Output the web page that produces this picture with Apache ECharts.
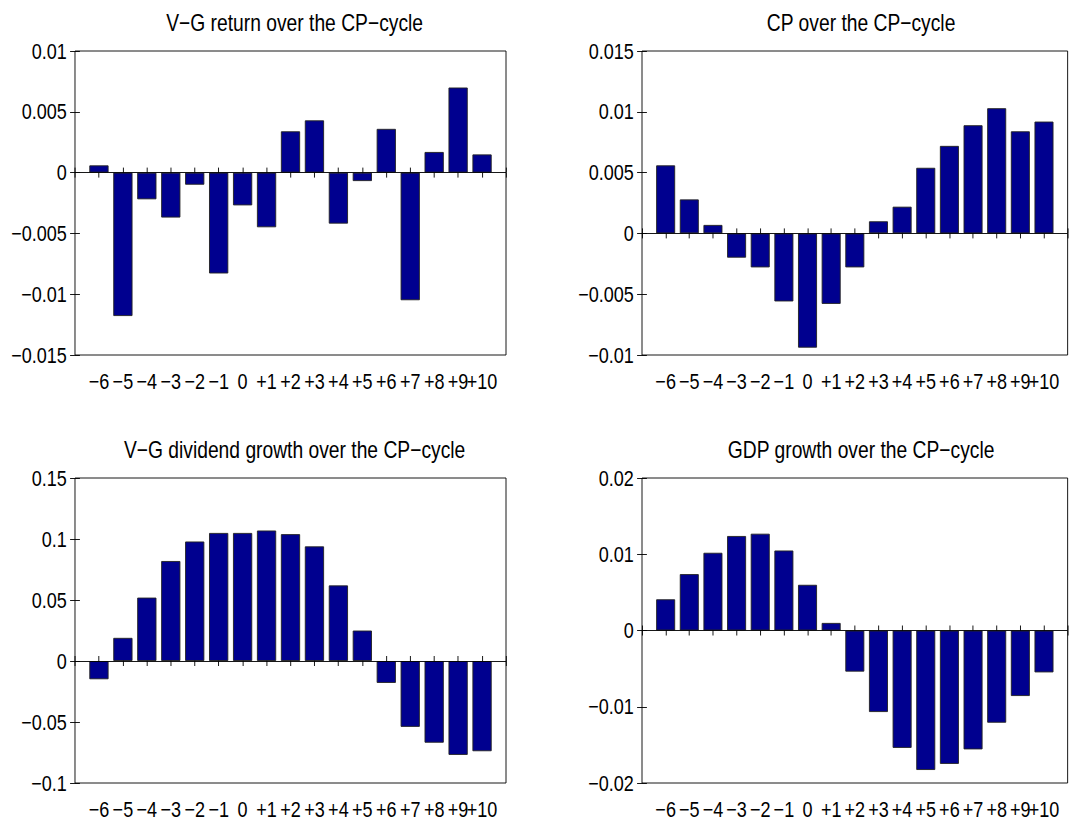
<!DOCTYPE html>
<html>
<head>
<meta charset="utf-8">
<script src="https://cdn.jsdelivr.net/npm/echarts@6/dist/echarts.min.js"></script>
<style>
  html, body { margin: 0; padding: 0; background: #fff; overflow: hidden; }
  #frame { width: 1070px; height: 825px; overflow: hidden; position: relative; }
  /* the figure uses a condensed face: draw wide, then compress horizontally */
  #chart { width: 1305px; height: 825px; transform: scaleX(0.82); transform-origin: 0 0; }
</style>
</head>
<body>
<div id="frame"><div id="chart"></div></div>
<script>
// Event time relative to the CP-cycle peak
const periods = ['\u22126', '\u22125', '\u22124', '\u22123', '\u22122', '\u22121', '0',
  '+1', '+2', '+3', '+4', '+5', '+6', '+7', '+8', '+9', '+10'];

// Series values per event period
const vgReturn = [0.0006, -0.0118, -0.0022, -0.0037, -0.0010, -0.0083, -0.0027, -0.0045,
  0.0034, 0.0043, -0.0042, -0.0007, 0.0036, -0.0105, 0.0017, 0.0070, 0.0015];
const cpLevel = [0.0056, 0.0028, 0.0007, -0.0020, -0.0028, -0.0056, -0.0094, -0.0058,
  -0.0028, 0.0010, 0.0022, 0.0054, 0.0072, 0.0089, 0.0103, 0.0084, 0.0092];
const vgDividend = [-0.015, 0.019, 0.052, 0.082, 0.098, 0.105, 0.105, 0.107,
  0.104, 0.094, 0.062, 0.025, -0.018, -0.054, -0.067, -0.077, -0.074];
const gdpGrowth = [0.0041, 0.0074, 0.0102, 0.0124, 0.0127, 0.0105, 0.0060, 0.0010,
  -0.0054, -0.0107, -0.0154, -0.0183, -0.0175, -0.0156, -0.0121, -0.0086, -0.0055];

// Y tick values per panel
const vgReturnTicks = [-0.015, -0.01, -0.005, 0, 0.005, 0.01];
const cpLevelTicks = [-0.01, -0.005, 0, 0.005, 0.01, 0.015];
const vgDividendTicks = [-0.1, -0.05, 0, 0.05, 0.1, 0.15];
const gdpGrowthTicks = [-0.02, -0.01, 0, 0.01, 0.02];

// Panel boxes in on-screen pixels
const panels = [
  { title: 'V\u2212G return over the CP\u2212cycle', values: vgReturn, ticks: vgReturnTicks, left: 75, top: 51, width: 431, height: 304 },
  { title: 'CP over the CP\u2212cycle', values: cpLevel, ticks: cpLevelTicks, left: 642, top: 51, width: 430, height: 304 },
  { title: 'V\u2212G dividend growth over the CP\u2212cycle', values: vgDividend, ticks: vgDividendTicks, left: 75, top: 478, width: 431, height: 305 },
  { title: 'GDP growth over the CP\u2212cycle', values: gdpGrowth, ticks: gdpGrowthTicks, left: 642, top: 478, width: 430, height: 305 }
];

const SX = 0.82;            // horizontal compression applied by CSS
const FONT = "'Liberation Sans', Arial, Helvetica, sans-serif";
const BAR_COLOR = '#00008f';
const LABEL_SIZE = 22;
const TITLE_SIZE = 23.5;

const clean = v => Number(Number(v).toPrecision(6));
const fmtY = v => String(clean(v)).replace('-', '\u2212');
const fmtX = v => periods[Math.round(v) - 1] || '';

const option = {
  animation: false,
  backgroundColor: '#fff',
  title: [],
  grid: [],
  xAxis: [],
  yAxis: [],
  series: []
};

panels.forEach((p, i) => {
  const step = clean(p.ticks[1] - p.ticks[0]);
  const yMin = p.ticks[0];
  const yMax = p.ticks[p.ticks.length - 1];

  option.title.push({
    text: p.title,
    left: (p.left + p.width / 2) / SX,
    top: p.top - 45,
    textAlign: 'center',
    textStyle: { fontFamily: FONT, fontSize: TITLE_SIZE, fontWeight: 'normal', color: '#000' }
  });

  option.grid.push({
    left: p.left / SX, top: p.top, width: p.width / SX, height: p.height,
    show: true, borderColor: '#000', borderWidth: 1, backgroundColor: 'transparent',
    containLabel: false
  });

  const xTick = { show: true, inside: true, length: 5, lineStyle: { color: '#000', width: 1 } };
  const yTick = { show: true, inside: true, length: 6, lineStyle: { color: '#000', width: 1 } };

  // bottom and top x axes (bar positions 1..17 within 0..18)
  option.xAxis.push({
    type: 'value', gridIndex: i, position: 'bottom', min: 0, max: 18, interval: 1,
    axisLine: { show: false }, splitLine: { show: false }, axisTick: xTick,
    axisLabel: { show: true, formatter: fmtX, margin: 15, color: '#000', fontFamily: FONT, fontSize: LABEL_SIZE }
  });
  option.xAxis.push({
    type: 'value', gridIndex: i, position: 'top', min: 0, max: 18, interval: 1,
    axisLine: { show: false }, splitLine: { show: false }, axisTick: xTick,
    axisLabel: { show: false }
  });

  // left and right y axes
  option.yAxis.push({
    type: 'value', gridIndex: i, position: 'left', min: yMin, max: yMax, interval: step,
    axisLine: { show: false }, splitLine: { show: false }, axisTick: yTick,
    axisLabel: { show: true, formatter: fmtY, margin: 10, color: '#000', fontFamily: FONT, fontSize: LABEL_SIZE }
  });
  option.yAxis.push({
    type: 'value', gridIndex: i, position: 'right', min: yMin, max: yMax, interval: step,
    axisLine: { show: false }, splitLine: { show: false }, axisTick: yTick,
    axisLabel: { show: false }
  });

  option.series.push({
    type: 'bar',
    xAxisIndex: 2 * i,
    yAxisIndex: 2 * i,
    data: p.values.map((v, k) => [k + 1, v]),
    barWidth: '80%',
    itemStyle: { color: BAR_COLOR, borderColor: '#222', borderWidth: 1 },
    silent: true,
    markLine: {
      silent: true,
      symbol: ['none', 'none'],
      label: { show: false },
      lineStyle: { color: '#000', width: 1, type: 'solid' },
      data: [{ yAxis: 0 }]
    }
  });
});

const chart = echarts.init(document.getElementById('chart'), null, { renderer: 'svg' });
chart.setOption(option);
</script>
</body>
</html>
